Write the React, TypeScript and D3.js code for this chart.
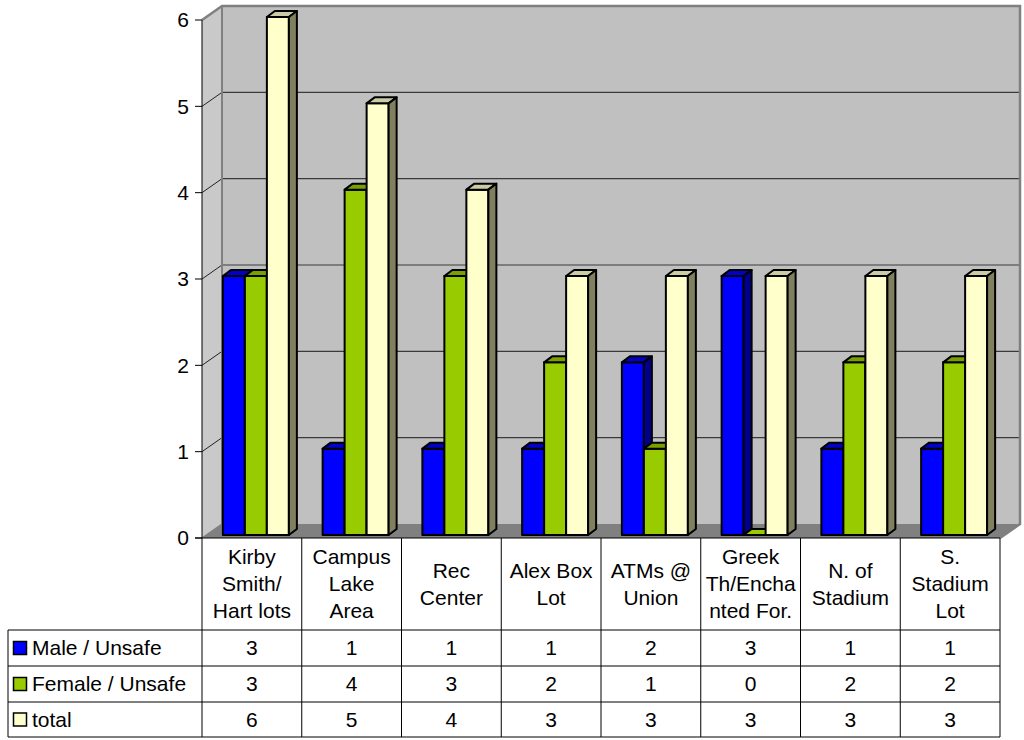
import React from "react";
import * as d3 from "d3";

const categories: string[][] = [
  ["Kirby", "Smith/", "Hart lots"],
  ["Campus", "Lake", "Area"],
  ["Rec", "Center"],
  ["Alex Box", "Lot"],
  ["ATMs @", "Union"],
  ["Greek", "Th/Encha", "nted For."],
  ["N. of", "Stadium"],
  ["S.", "Stadium", "Lot"],
];
const seriesNames = ["Male / Unsafe", "Female / Unsafe", "total"];
const male = [3, 1, 1, 1, 2, 3, 1, 1];
const female = [3, 4, 3, 2, 1, 0, 2, 2];
const total = [6, 5, 4, 3, 3, 3, 3, 3];
const yTicks = [0, 1, 2, 3, 4, 5, 6];

const seriesValues = [male, female, total];
const colors = [
  { front: "#0000ff", top: "#0000c8", side: "#00008c" },
  { front: "#99cc00", top: "#7a9f00", side: "#6b8e00" },
  { front: "#ffffcc", top: "#cccca4", side: "#80805f" },
];

const FONT = "'Liberation Sans', Arial, sans-serif";
const FS = 21;

export default function App() {
  const x0 = 202, x1 = 1000, yTop = 20, yBot = 538;
  const DX = 20, DY = -14;
  const y = d3.scaleLinear().domain([0, 6]).range([yBot, yTop]);
  const band = d3.scaleBand<number>().domain(categories.map((_, i) => i)).range([x0, x1]).paddingInner(0);
  const bw = band.bandwidth();
  const barW = 22;
  const fOff = { x: 4, y: -3 };
  const dep = { x: 8, y: -6 };
  const groupPad = (bw - barW * 3) / 2;

  const rowY = [538, 630, 666, 702, 737];
  const pts = (a: number[][]) => a.map((p) => p.join(",")).join(" ");

  const bars: React.ReactNode[] = [];
  categories.forEach((_, ci) => {
    seriesValues.forEach((vals, si) => {
      const v = vals[ci];
      const bx = (band(ci) as number) + fOff.x + groupPad + si * barW;
      const top = y(v) + fOff.y;
      const bottom = y(0) + fOff.y;
      const c = colors[si];
      bars.push(
        <g key={`b${ci}-${si}`} stroke="#000" strokeWidth={2} strokeLinejoin="round">
          {v > 0 && <rect x={bx} y={top} width={barW} height={bottom - top} fill={c.front} />}
          <polygon
            points={pts([[bx, top], [bx + dep.x, top + dep.y], [bx + barW + dep.x, top + dep.y], [bx + barW, top]])}
            fill={v > 0 ? c.top : c.front}
          />
          {v > 0 && (
            <polygon
              points={pts([[bx + barW, top], [bx + barW + dep.x, top + dep.y], [bx + barW + dep.x, bottom + dep.y], [bx + barW, bottom]])}
              fill={c.side}
            />
          )}
        </g>
      );
    });
  });

  return (
    <svg width={1024} height={740} style={{ position: "absolute", left: 0, top: 0 }} fontFamily={FONT}>
      <rect width={1024} height={740} fill="#fff" />
      <polygon points={pts([[x0, yTop], [x0 + DX, yTop + DY], [x0 + DX, yBot + DY], [x0, yBot]])} fill="#c9c9c9" />
      <rect x={x0 + DX} y={yTop + DY} width={x1 - x0} height={yBot - yTop} fill="#c0c0c0" />
      {yTicks.filter((t) => t > 0 && t < 6).map((t) => (
        <g key={`g${t}`}>
          <line x1={x0 + DX} x2={x1 + DX} y1={y(t) + DY} y2={y(t) + DY} stroke="#3a3a3a" strokeWidth={1.2} />
          <line x1={x0} x2={x0 + DX} y1={y(t)} y2={y(t) + DY} stroke="#222" strokeWidth={1} />
        </g>
      ))}
      <polygon points={pts([[x0, yBot], [x0 + DX, yBot + DY], [x1 + DX, yBot + DY], [x1, yBot]])} fill="#808080" />
      <polyline
        points={pts([[x0, yTop], [x0 + DX, yTop + DY], [x1 + DX, yTop + DY], [x1 + DX, yBot + DY], [x1, yBot]])}
        fill="none" stroke="#808080" strokeWidth={2.5}
      />
      <line x1={x0 + DX} x2={x0 + DX} y1={yTop + DY} y2={yBot + DY} stroke="#808080" strokeWidth={2} />
      <line x1={x0} x2={x0 + DX} y1={yBot} y2={yBot + DY} stroke="#808080" strokeWidth={1.5} />
      {bars}
      <line x1={x0} x2={x0} y1={yTop} y2={yBot} stroke="#000" strokeWidth={1} />
      {yTicks.map((t) => (
        <g key={`t${t}`}>
          <line x1={x0 - 7} x2={x0} y1={y(t)} y2={y(t)} stroke="#000" />
          <text x={x0 - 13} y={y(t)} dy="0.35em" textAnchor="end" fontSize={FS}>{t}</text>
        </g>
      ))}
      <g stroke="#000" strokeWidth={1}>
        <line x1={x0 - 7} x2={x1} y1={yBot} y2={yBot} />
        {rowY.slice(1).map((ry) => (
          <line key={`r${ry}`} x1={8} x2={x1} y1={ry} y2={ry} />
        ))}
        <line x1={8} x2={8} y1={rowY[1]} y2={rowY[4]} />
        {d3.range(categories.length + 1).map((i) => {
          const cx = i < categories.length ? (band(i) as number) : x1;
          return <line key={`v${i}`} x1={cx} x2={cx} y1={yBot} y2={rowY[4]} />;
        })}
      </g>
      {categories.map((lines, ci) => {
        const cx = (band(ci) as number) + bw / 2;
        const mid = (rowY[0] + rowY[1]) / 2;
        const lh = 27;
        const start = mid - ((lines.length - 1) * lh) / 2;
        return (
          <text key={`c${ci}`} textAnchor="middle" fontSize={FS}>
            {lines.map((l, li) => (
              <tspan key={li} x={cx} y={start + li * lh} dy="0.35em">{l}</tspan>
            ))}
          </text>
        );
      })}
      {seriesNames.map((name, si) => {
        const ry = (rowY[si + 1] + rowY[si + 2]) / 2;
        return (
          <g key={`s${si}`}>
            <rect x={13.5} y={ry - 6.5} width={13} height={13} fill={colors[si].front} stroke="#000" strokeWidth={1.5} />
            <text x={32} y={ry} dy="0.35em" fontSize={FS}>{name}</text>
            {seriesValues[si].map((v, ci) => (
              <text key={ci} x={(band(ci) as number) + bw / 2} y={ry} dy="0.35em" textAnchor="middle" fontSize={FS}>{v}</text>
            ))}
          </g>
        );
      })}
    </svg>
  );
}
